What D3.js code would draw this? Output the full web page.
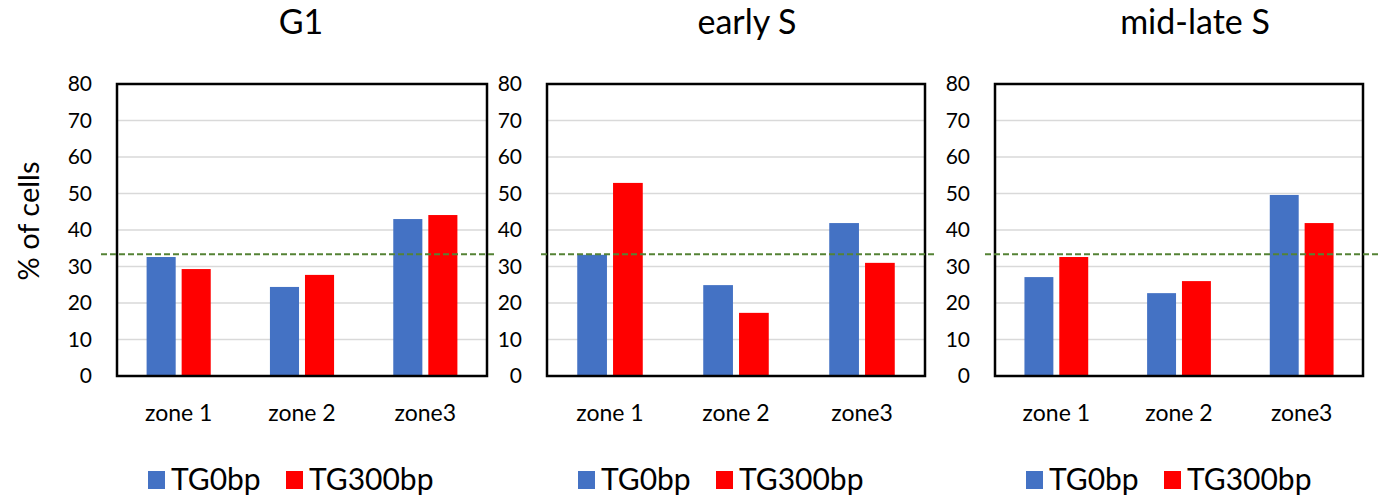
<!DOCTYPE html>
<html>
<head>
  <meta charset="utf-8">
  <title>% of cells per zone</title>
  <script src="https://d3js.org/d3.v7.min.js"></script>
  <style>
    body { margin: 0; background: #fff; }
    svg text { font-family: Lato, "Open Sans", sans-serif; fill: #000; }
    .grid line { stroke: #d9d9d9; stroke-width: 1.5px; }
  </style>
</head>
<body>
  <svg width="1395" height="500"></svg>
  <script>
    // Data
    const panelTitles = ["G1", "early S", "mid-late S"];
    const zones = ["zone 1", "zone 2", "zone3"];
    const seriesNames = ["TG0bp", "TG300bp"];
    const tg0bp   = [[32.6, 24.4, 43.0], [33.2, 24.9, 41.9], [27.1, 22.7, 49.6]];
    const tg300bp = [[29.3, 27.7, 44.1], [52.9, 17.3, 31.0], [32.6, 26.0, 41.9]];
    const yTicks = [0, 10, 20, 30, 40, 50, 60, 70, 80];
    const refLevel = 100 / 3; // equal share across three zones

    const colors = { TG0bp: "#4472c4", TG300bp: "#ff0000" };

    // Panel geometry
    const panels = [
      { left: 117, right: 487, titleX: 301, refFrom: 101, refTo: 497 },
      { left: 547, right: 925, titleX: 747, refFrom: 541, refTo: 935 },
      { left: 995, right: 1363, titleX: 1195, refFrom: 985, refTo: 1381 }
    ];
    const plotTop = 84, plotBottom = 376;

    const svg = d3.select("svg");
    const y = d3.scaleLinear().domain([0, 80]).range([plotBottom, plotTop]);

    panels.forEach((p, i) => {
      const g = svg.append("g");

      const x0 = d3.scaleBand().domain(zones).range([p.left, p.right]).padding(0);
      const pairW = x0.bandwidth() * 0.52;

      // gridlines
      g.append("g").attr("class", "grid")
        .selectAll("line").data(yTicks.filter(t => t > 0 && t < 80))
        .join("line")
        .attr("x1", p.left).attr("x2", p.right)
        .attr("y1", d => y(d)).attr("y2", d => y(d));

      // bars
      const rows = zones.map((z, k) => ({ zone: z, TG0bp: tg0bp[i][k], TG300bp: tg300bp[i][k] }));
      rows.forEach(r => {
        const c = x0(r.zone) + x0.bandwidth() / 2;
        const x1 = d3.scaleBand().domain(seriesNames)
          .range([c - pairW / 2, c + pairW / 2]).paddingInner(0.17).paddingOuter(0);
        g.append("g").selectAll("rect").data(seriesNames).join("rect")
          .attr("x", s => x1(s))
          .attr("width", x1.bandwidth())
          .attr("y", s => y(r[s]))
          .attr("height", s => y(0) - y(r[s]))
          .attr("fill", s => colors[s]);
      });

      // plot frame
      g.append("rect")
        .attr("x", p.left).attr("y", plotTop)
        .attr("width", p.right - p.left).attr("height", plotBottom - plotTop)
        .attr("fill", "none").attr("stroke", "#000").attr("stroke-width", 2.5);

      // y axis
      const yAxis = d3.axisLeft(y).tickValues(yTicks).tickSize(0).tickPadding(25);
      const ya = g.append("g").attr("transform", `translate(${p.left},0)`).call(yAxis);
      ya.select(".domain").remove();
      ya.selectAll("text").style("font-size", "21px");

      // x axis labels
      const xAxis = d3.axisBottom(x0).tickSize(0).tickPadding(29);
      const xa = g.append("g").attr("transform", `translate(0,${plotBottom})`).call(xAxis);
      xa.select(".domain").remove();
      xa.selectAll("text").style("font-size", "23px");

      // dashed reference line
      g.append("line")
        .attr("x1", p.refFrom).attr("x2", p.refTo)
        .attr("y1", y(refLevel)).attr("y2", y(refLevel))
        .attr("stroke", "#548235").attr("stroke-width", 2)
        .attr("stroke-dasharray", "6,3");

      // title
      g.append("text")
        .attr("x", p.titleX).attr("y", 34)
        .attr("text-anchor", "middle")
        .style("font-size", "34px")
        .text(panelTitles[i]);

      // legend
      const leg = g.append("g").attr("transform", `translate(${p.left + 31},471)`);
      const items = leg.selectAll("g").data(seriesNames).join("g")
        .attr("transform", (d, k) => `translate(${k * 138},0)`);
      items.append("rect").attr("width", 17).attr("height", 18).attr("fill", d => colors[d]);
      items.append("text").attr("x", 23).attr("y", 19)
        .style("font-size", "30px").text(d => d);
    });

    // y axis title
    svg.append("text")
      .attr("transform", "translate(39,221) rotate(-90)")
      .attr("text-anchor", "middle")
      .style("font-size", "29px")
      .text("% of cells");
  </script>
</body>
</html>
